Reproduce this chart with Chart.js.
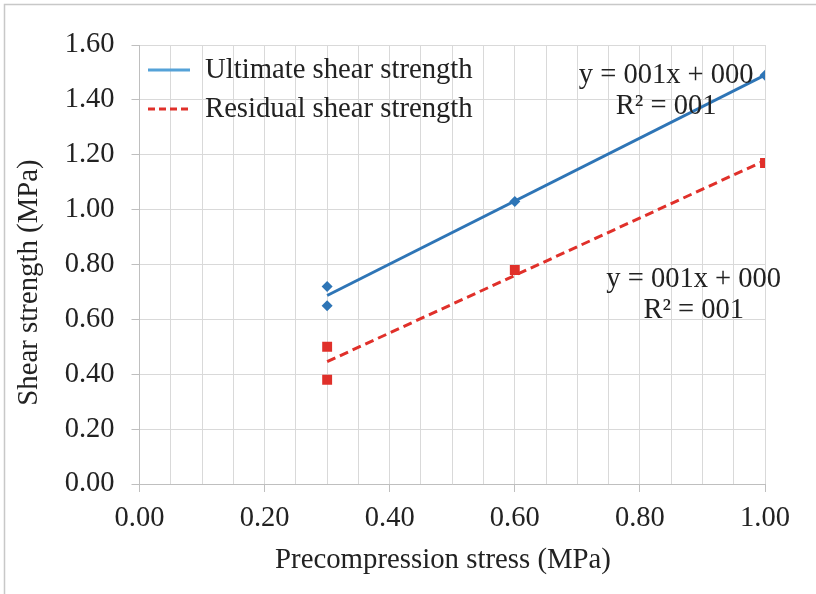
<!DOCTYPE html>
<html>
<head>
<meta charset="utf-8">
<script src="https://cdn.jsdelivr.net/npm/chart.js@4.4.1/dist/chart.umd.min.js"></script>
<style>
  html, body { margin: 0; padding: 0; background: #ffffff; }
  #wrap { width: 816px; height: 594px; position: relative; }
</style>
</head>
<body>
<div id="wrap"><canvas id="shearChart" width="816" height="594"></canvas></div>
<script>
// Data
const ultimateX = [0.3, 0.3, 0.6, 1.0];
const ultimateY = [0.72, 0.65, 1.03, 1.49];
const residualX = [0.3, 0.3, 0.6, 1.0];
const residualY = [0.50, 0.38, 0.78, 1.17];

// trendline end points (as drawn in the picture)
const trendX = [0.3, 1.0];
const ultimateTrendY = [0.687, 1.49];
const residualTrendY = [0.446, 1.179];

const xTicks = [0, 0.2, 0.4, 0.6, 0.8, 1.0];
const yTicks = [0, 0.2, 0.4, 0.6, 0.8, 1.0, 1.2, 1.4, 1.6];

const seriesNames = ['Ultimate shear strength', 'Residual shear strength'];
const xTitle = 'Precompression stress (MPa)';
const yTitle = 'Shear strength (MPa)';
const equationLines = [
    ['y = 001x + 000', 'R\u00B2 = 001'],
    ['y = 001x + 000', 'R\u00B2 = 001']
];

const FONT = "'Liberation Serif', 'Times New Roman', serif";
const TEXT = '#222222';
const BLUE = '#2e75b6';
const BLUE_LEGEND = '#55a2d8';
const RED = '#e0302a';
const GRID = '#d9d9d9';

function toPoints(xs, ys) {
    return xs.map((x, i) => ({ x: x, y: ys[i] }));
}

// Outer frame (only top and left edges are visible)
const framePlugin = {
    id: 'frame',
    beforeDraw(chart) {
        const ctx = chart.ctx;
        ctx.save();
        ctx.strokeStyle = '#c8c8c8';
        ctx.lineWidth = 1.5;
        ctx.beginPath();
        ctx.moveTo(4.5, chart.height);
        ctx.lineTo(4.5, 4.5);
        ctx.lineTo(chart.width, 4.5);
        ctx.stroke();
        ctx.restore();
    }
};

// Axis titles (placed like the original, slightly off the axis centre)
const axisTitlePlugin = {
    id: 'axisTitles',
    afterDraw(chart) {
        const ctx = chart.ctx;
        ctx.save();
        ctx.fillStyle = TEXT;
        ctx.textAlign = 'center';
        ctx.textBaseline = 'middle';
        ctx.font = '28.8px ' + FONT;
        ctx.fillText(xTitle, 443, 560);
        ctx.translate(29, 282.5);
        ctx.rotate(-Math.PI / 2);
        ctx.fillText(yTitle, 0, 0);
        ctx.restore();
    }
};

// Legend drawn inside the plot, top-left
const insideLegendPlugin = {
    id: 'insideLegend',
    afterDraw(chart) {
        const ctx = chart.ctx;
        const items = [
            { text: seriesNames[0], color: BLUE_LEGEND, dash: [] },
            { text: seriesNames[1], color: RED, dash: [7, 4] }
        ];
        ctx.save();
        ctx.font = '28.7px ' + FONT;
        ctx.textBaseline = 'middle';
        ctx.fillStyle = TEXT;
        items.forEach((item, i) => {
            const y = 70 + i * 39;
            ctx.strokeStyle = item.color;
            ctx.lineWidth = 3;
            ctx.setLineDash(item.dash);
            ctx.beginPath();
            ctx.moveTo(148, y);
            ctx.lineTo(190, y);
            ctx.stroke();
            ctx.setLineDash([]);
            ctx.fillText(item.text, 205, y);
        });
        ctx.restore();
    }
};

// Trendline equations
const equationPlugin = {
    id: 'equations',
    afterDraw(chart) {
        const ctx = chart.ctx;
        const xs = chart.scales.x;
        const ys = chart.scales.y;
        const anchors = [
            { x: 0.842, y: 1.49 },
            { x: 0.886, y: 0.745 }
        ];
        ctx.save();
        ctx.font = '28.5px ' + FONT;
        ctx.textAlign = 'center';
        ctx.textBaseline = 'middle';
        ctx.fillStyle = TEXT;
        anchors.forEach((a, i) => {
            const px = xs.getPixelForValue(a.x);
            const py = ys.getPixelForValue(a.y);
            ctx.fillText(equationLines[i][0], px, py);
            ctx.fillText(equationLines[i][1], px, py + 31);
        });
        ctx.restore();
    }
};

const ctx = document.getElementById('shearChart').getContext('2d');
new Chart(ctx, {
    type: 'scatter',
    data: {
        datasets: [
            {
                label: seriesNames[0] + ' trend',
                data: toPoints(trendX, ultimateTrendY),
                showLine: true,
                borderColor: BLUE,
                borderWidth: 3,
                pointRadius: 0,
                order: 3
            },
            {
                label: seriesNames[1] + ' trend',
                data: toPoints(trendX, residualTrendY),
                showLine: true,
                borderColor: RED,
                borderWidth: 3,
                borderDash: [9, 5],
                pointRadius: 0,
                order: 4
            },
            {
                label: seriesNames[0],
                data: toPoints(ultimateX, ultimateY),
                pointStyle: 'rectRot',
                pointRadius: 5.5,
                backgroundColor: BLUE,
                borderColor: BLUE,
                borderWidth: 0,
                order: 1
            },
            {
                label: seriesNames[1],
                data: toPoints(residualX, residualY),
                pointStyle: 'rect',
                pointRadius: 7,
                backgroundColor: RED,
                borderColor: RED,
                borderWidth: 0,
                order: 2
            }
        ]
    },
    options: {
        responsive: false,
        animation: false,
        layout: { padding: { left: 0, right: 51, top: 45, bottom: 0 } },
        plugins: {
            legend: { display: false },
            tooltip: { enabled: false }
        },
        scales: {
            x: {
                type: 'linear',
                min: 0,
                max: 1,
                afterBuildTicks: scale => {
                    // minor gridlines every 0.05, labels only at the major ticks
                    const t = [];
                    for (let i = 0; i <= 20; i++) t.push({ value: i / 20 });
                    scale.ticks = t;
                },
                afterFit: scale => { scale.height = 110; },
                grid: {
                    color: GRID,
                    lineWidth: 1,
                    tickLength: 8,
                    tickColor: c => xTicks.some(v => Math.abs(v - c.tick.value) < 1e-6) ? '#bfbfbf' : 'rgba(0,0,0,0)'
                },
                border: { color: '#bfbfbf', width: 1 },
                ticks: {
                    autoSkip: false,
                    maxRotation: 0,
                    padding: 9,
                    color: TEXT,
                    font: { family: FONT, size: 28.5 },
                    callback: v => xTicks.some(t => Math.abs(t - v) < 1e-6) ? v.toFixed(2) : ''
                }
            },
            y: {
                type: 'linear',
                min: 0,
                max: 1.6,
                afterBuildTicks: scale => {
                    scale.ticks = yTicks.map(v => ({ value: v }));
                },
                afterFit: scale => { scale.width = 139.5; },
                grid: {
                    color: GRID,
                    lineWidth: 1,
                    tickLength: 8,
                    tickColor: '#bfbfbf'
                },
                border: { color: '#bfbfbf', width: 1 },
                ticks: {
                    padding: 17,
                    color: TEXT,
                    font: { family: FONT, size: 28.5 },
                    callback: v => v.toFixed(2)
                }
            }
        }
    },
    plugins: [framePlugin, axisTitlePlugin, insideLegendPlugin, equationPlugin]
});
</script>
</body>
</html>
